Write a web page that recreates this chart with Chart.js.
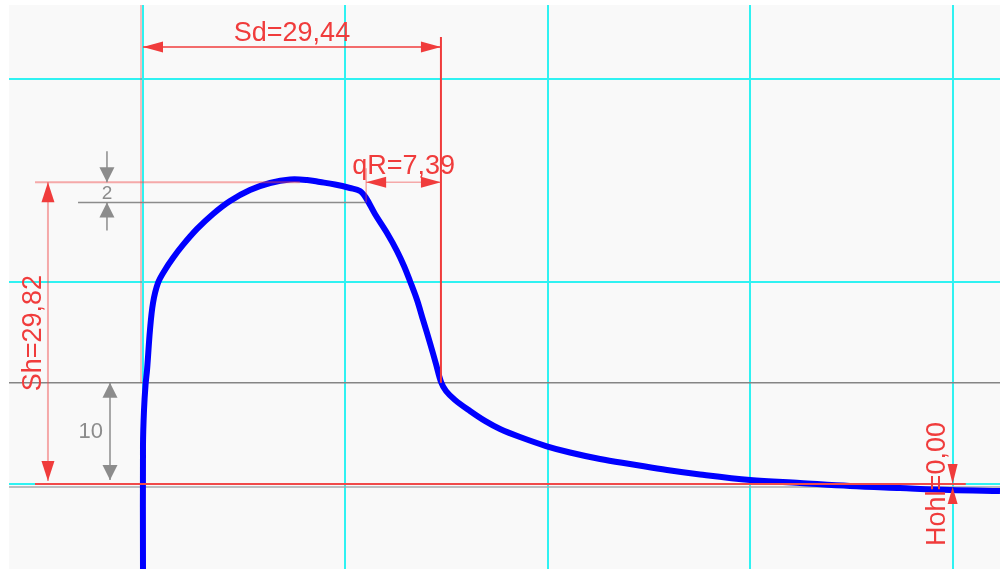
<!DOCTYPE html>
<html lang="de">
<head>
  <meta charset="UTF-8" />
  <title>Radprofil</title>
  <style>
    html, body { margin: 0; padding: 0; background: #fff; }
    #wrap { width: 1000px; height: 569px; }
  </style>
</head>
<body>
  <div id="wrap"><canvas id="profil" width="1000" height="569"></canvas></div>
  <script src="https://cdn.jsdelivr.net/npm/chart.js"></script>
  <script>
    // Profilpunkte in mm
    const profilX = [0, 0, 0.10, 0.25, 0.40, 0.69, 0.99, 1.48, 2.17, 2.96, 3.95, 5.34, 6.92, 8.60, 10.57, 12.55, 14.53,
      16.21, 17.49, 18.97, 20.45, 21.44, 22.04, 22.92, 24.11, 25.10, 25.79, 26.38, 27.08, 27.67, 28.36, 28.95,
      29.45, 29.94, 30.83, 32.31, 33.79, 35.28, 37.25, 39.82, 42.19, 45.16, 48.42, 51.78, 55.04, 59.98, 64.92,
      69.86, 74.80, 79.74, 84.68];
    const profilY = [-8.40, 3.85, 7.31, 9.78, 11.26, 15.22, 17.89, 19.86, 21.15, 22.33, 23.62, 25.20, 26.68, 27.96, 29.05, 29.74, 30.09,
      30.04, 29.84, 29.59, 29.25, 28.95, 28.26, 26.68, 24.80, 23.02, 21.54, 20.06, 18.18, 16.21, 13.93, 11.86,
      10.08, 9.19, 8.30, 7.21, 6.23, 5.43, 4.64, 3.75, 3.11, 2.47, 1.93, 1.38, 0.94, 0.40, 0.10,
      -0.20, -0.40, -0.59, -0.69];

    // Messwerte
    const Sd = 29.44, Sh = 29.82, qR = 7.39, Hohl = 0.00;
    const messEbene = 10;
    const kuppenAbstand = 2;

    const gridX = [0, 20, 40, 60, 80];
    const gridY = [0, 20, 40];

    const xMin = -13.24, xMax = 84.68;
    const yMin = -8.40, yMax = 47.33;

    // Lage der Bemassungen (mm)
    const sdLinieY = 43.18, sdOben = 44.17;
    const shLinieX = -9.39, linksX = -10.67;
    const kuppeBisX = 15.5, basisBisX = 81.3;
    const zweiVonX = -6.42, zweiPfeilX = -3.56;
    const zehnPfeilX = -3.26;
    const hohlX = 80;
    const grauUnten = -0.3;

    const fmt = v => v.toFixed(2).replace('.', ',');

    const ROT = '#f03c3c';
    const ROT_BLASS = 'rgba(240,70,70,0.45)';
    const GRAU = '#8c8c8c';
    const FONT = '"Liberation Sans", Arial, sans-serif';

    function linie(ctx, x1, y1, x2, y2, farbe, breite) {
      ctx.beginPath();
      ctx.moveTo(x1, y1);
      ctx.lineTo(x2, y2);
      ctx.strokeStyle = farbe;
      ctx.lineWidth = breite;
      ctx.stroke();
    }

    // Pfeilspitze: Spitze bei (x,y), zeigt in Richtung (dx,dy)
    function spitze(ctx, x, y, dx, dy, len, halb, farbe) {
      const px = -dy, py = dx;
      ctx.beginPath();
      ctx.moveTo(x, y);
      ctx.lineTo(x - dx * len + px * halb, y - dy * len + py * halb);
      ctx.lineTo(x - dx * len - px * halb, y - dy * len - py * halb);
      ctx.closePath();
      ctx.fillStyle = farbe;
      ctx.fill();
    }

    function text(ctx, t, x, y, groesse, farbe, align, base, drehung) {
      ctx.save();
      ctx.translate(x, y);
      if (drehung) ctx.rotate(drehung);
      ctx.font = groesse + 'px ' + FONT;
      ctx.fillStyle = farbe;
      ctx.textAlign = align;
      ctx.textBaseline = base;
      ctx.fillText(t, 0, 0);
      ctx.restore();
    }

    const bemassung = {
      id: 'bemassung',
      beforeDraw(chart) {
        const { ctx, chartArea: a } = chart;
        ctx.save();
        ctx.fillStyle = '#f9f9f9';
        ctx.fillRect(a.left, a.top, a.right - a.left, a.bottom - a.top);
        ctx.restore();
      },
      beforeDatasetsDraw(chart) {
        const { ctx, chartArea: a } = chart;
        const X = v => chart.scales.x.getPixelForValue(v);
        const Y = v => chart.scales.y.getPixelForValue(v);
        ctx.save();
        linie(ctx, a.left, Y(messEbene), a.right, Y(messEbene), '#858585', 1.5);
        linie(ctx, a.left, Y(grauUnten), a.right, Y(grauUnten), '#a6aaae', 1.5);
        linie(ctx, X(zweiVonX), Y(Sh - kuppenAbstand), X(Sd - qR), Y(Sh - kuppenAbstand), GRAU, 1.5);
        ctx.restore();
      },
      afterDatasetsDraw(chart) {
        const { ctx } = chart;
        const X = v => chart.scales.x.getPixelForValue(v);
        const Y = v => chart.scales.y.getPixelForValue(v);
        ctx.save();

        // Grundlinie
        linie(ctx, X(linksX), Y(0), X(basisBisX), Y(0), '#f04a4a', 2);

        // Sh
        linie(ctx, X(linksX), Y(Sh), X(kuppeBisX), Y(Sh), ROT_BLASS, 2);
        linie(ctx, X(shLinieX), Y(Sh), X(shLinieX), Y(0) - 3, ROT_BLASS, 2);
        spitze(ctx, X(shLinieX), Y(Sh), 0, -1, 20, 6.5, ROT);
        spitze(ctx, X(shLinieX), Y(0) - 3, 0, 1, 20, 6.5, ROT);
        text(ctx, 'Sh=' + fmt(Sh), X(shLinieX) - 7, (Y(Sh) + Y(0)) / 2, 27, ROT, 'center', 'alphabetic', -Math.PI / 2);

        // Sd
        linie(ctx, X(0) - 2, Y(yMax), X(0) - 2, Y(messEbene), ROT_BLASS, 1.5);
        linie(ctx, X(Sd), Y(sdOben), X(Sd), Y(messEbene), ROT, 2);
        linie(ctx, X(0), Y(sdLinieY), X(Sd), Y(sdLinieY), ROT, 1.5);
        spitze(ctx, X(0), Y(sdLinieY), -1, 0, 20, 5.5, ROT);
        spitze(ctx, X(Sd), Y(sdLinieY), 1, 0, 20, 5.5, ROT);
        text(ctx, 'Sd=' + fmt(Sd), X(Sd / 2), Y(sdLinieY) - 6, 27, ROT, 'center', 'alphabetic');

        // qR
        const qrX = Sd - qR;
        linie(ctx, X(qrX), Y(Sh) - 14, X(qrX), Y(Sh - kuppenAbstand), ROT_BLASS, 1.5);
        linie(ctx, X(qrX), Y(Sh), X(Sd), Y(Sh), ROT_BLASS, 1.5);
        spitze(ctx, X(qrX), Y(Sh), -1, 0, 20, 5.5, ROT);
        spitze(ctx, X(Sd), Y(Sh), 1, 0, 20, 5.5, ROT);
        text(ctx, 'qR=' + fmt(qR), X(qrX + qR / 2), Y(Sh) - 8, 27, ROT, 'center', 'alphabetic');

        // 2 mm
        const zx = X(zweiPfeilX);
        linie(ctx, zx, Y(Sh) - 31, zx, Y(Sh), GRAU, 1.5);
        spitze(ctx, zx, Y(Sh), 0, 1, 15, 7.5, GRAU);
        linie(ctx, zx, Y(Sh - kuppenAbstand), zx, Y(Sh - kuppenAbstand) + 28, GRAU, 1.5);
        spitze(ctx, zx, Y(Sh - kuppenAbstand), 0, -1, 15, 7.5, GRAU);
        text(ctx, String(kuppenAbstand), zx, (Y(Sh) + Y(Sh - kuppenAbstand)) / 2 + 1, 19, GRAU, 'center', 'middle');

        // 10 mm
        const tx = X(zehnPfeilX);
        linie(ctx, tx, Y(messEbene), tx, Y(0) - 4, GRAU, 1.5);
        spitze(ctx, tx, Y(messEbene), 0, -1, 15, 7.5, GRAU);
        spitze(ctx, tx, Y(0) - 4, 0, 1, 15, 7.5, GRAU);
        text(ctx, String(messEbene), tx - 7, (Y(messEbene) + Y(0)) / 2 - 1, 22, GRAU, 'right', 'middle');

        // Hohl
        const hx = X(hohlX);
        spitze(ctx, hx, Y(0), 0, 1, 20, 5, ROT);
        spitze(ctx, hx, Y(grauUnten), 0, -1, 17, 5, ROT);
        text(ctx, 'Hohl=' + fmt(Hohl), hx - 8, Y(0), 27, ROT, 'center', 'alphabetic', -Math.PI / 2);

        ctx.restore();
      }
    };

    const ctx = document.getElementById('profil').getContext('2d');
    new Chart(ctx, {
      type: 'line',
      data: {
        datasets: [{
          label: 'Profil',
          data: profilX.map((x, i) => ({ x: x, y: profilY[i] })),
          borderColor: '#0000ff',
          borderWidth: 6,
          pointRadius: 0,
          tension: 0.35,
          fill: false
        }]
      },
      options: {
        responsive: false,
        animation: false,
        layout: { padding: { left: 9, top: 5, right: 0, bottom: 0 } },
        plugins: { legend: { display: false }, tooltip: { enabled: false } },
        scales: {
          x: {
            type: 'linear', min: xMin, max: xMax,
            afterBuildTicks: s => { s.ticks = gridX.map(v => ({ value: v })); },
            ticks: { display: false },
            grid: { color: '#2ff2f2', lineWidth: 2, drawTicks: false },
            border: { display: false }
          },
          y: {
            type: 'linear', min: yMin, max: yMax,
            afterBuildTicks: s => { s.ticks = gridY.map(v => ({ value: v })); },
            ticks: { display: false },
            grid: { color: '#2ff2f2', lineWidth: 2, drawTicks: false },
            border: { display: false }
          }
        }
      },
      plugins: [bemassung]
    });
  </script>
</body>
</html>
